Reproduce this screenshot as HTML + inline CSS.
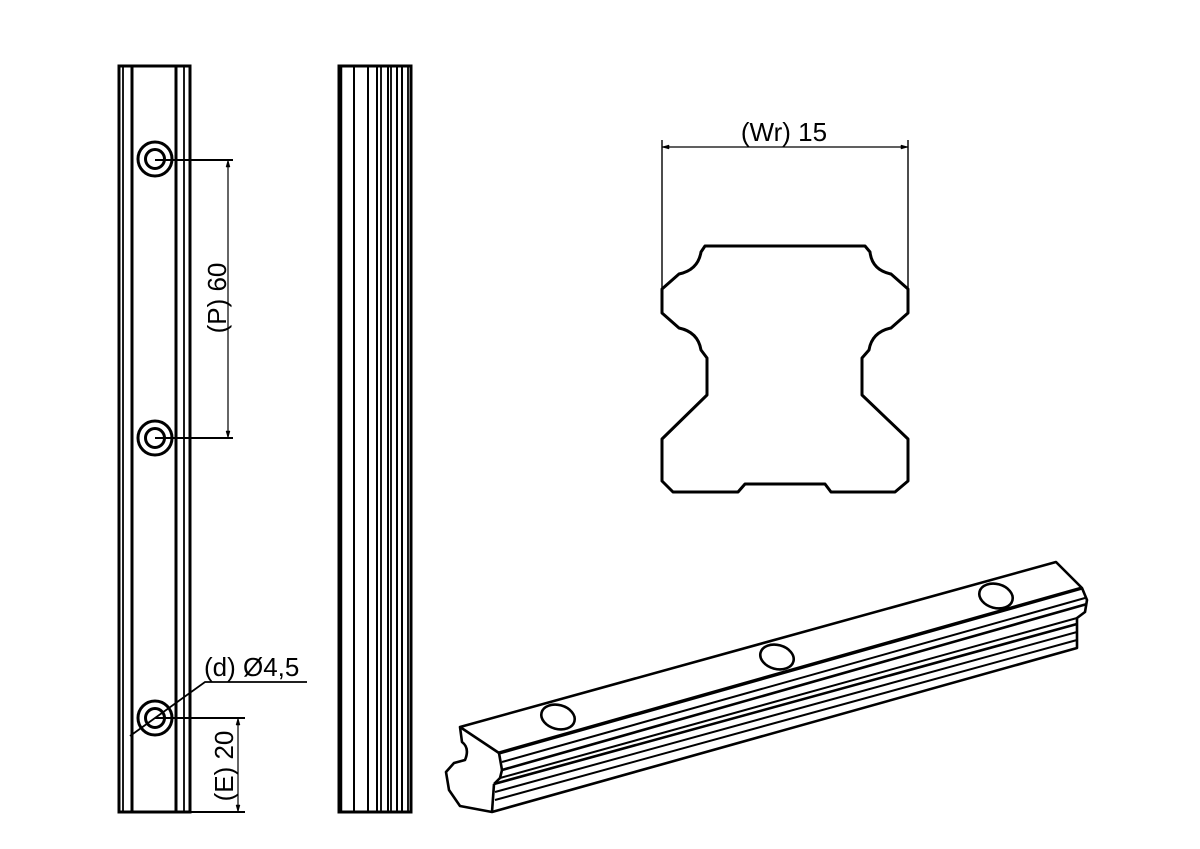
<!DOCTYPE html>
<html><head><meta charset="utf-8"><style>
html,body{margin:0;padding:0;background:#fff;}
svg{display:block;}
text{font-family:"Liberation Sans",Arial,sans-serif;fill:#000;}
</style></head><body>
<svg width="1200" height="849" viewBox="0 0 1200 849" xmlns="http://www.w3.org/2000/svg">
<g stroke="#000" fill="none">
<rect x="119" y="66" width="71" height="746" stroke-width="3"/>
<line x1="123" y1="66" x2="123" y2="812" stroke-width="1.8"/>
<line x1="132" y1="66" x2="132" y2="812" stroke-width="3"/>
<line x1="176" y1="66" x2="176" y2="812" stroke-width="3"/>
<line x1="184" y1="66" x2="184" y2="812" stroke-width="1.8"/>
<g stroke-width="3" fill="#fff">
<circle cx="155" cy="159" r="17"/><circle cx="155" cy="159" r="9.5"/>
<circle cx="155" cy="438" r="17"/><circle cx="155" cy="438" r="9.5"/>
<circle cx="155" cy="718" r="17"/><circle cx="155" cy="718" r="9.5"/>
</g>
<line x1="155" y1="160" x2="233" y2="160" stroke-width="2"/>
<line x1="155" y1="438" x2="233" y2="438" stroke-width="2"/>
<line x1="228" y1="160" x2="228" y2="438" stroke-width="1.2"/>
<path d="M228 160 l-2 7 h4z M228 438 l-2 -7 h4z" fill="#000" stroke-width="0.5"/>
<line x1="155" y1="718" x2="245" y2="718" stroke-width="2"/>
<line x1="190" y1="812" x2="245" y2="812" stroke-width="2"/>
<line x1="238" y1="718" x2="238" y2="812" stroke-width="1.2"/>
<path d="M238 718 l-2 7 h4z M238 812 l-2 -7 h4z" fill="#000" stroke-width="0.5"/>
<polyline points="130,736 205,682 307,682" stroke-width="1.8"/>
<rect x="339" y="66" width="72" height="746" stroke-width="3"/>
<line x1="341" y1="66" x2="341" y2="812" stroke-width="2.5"/>
<line x1="354" y1="66" x2="354" y2="812" stroke-width="2"/>
<line x1="368" y1="66" x2="368" y2="812" stroke-width="2"/>
<line x1="377" y1="66" x2="377" y2="812" stroke-width="2"/>
<line x1="381" y1="66" x2="381" y2="812" stroke-width="1.8"/>
<line x1="388" y1="66" x2="388" y2="812" stroke-width="2"/>
<line x1="391" y1="66" x2="391" y2="812" stroke-width="1.8"/>
<line x1="397" y1="66" x2="397" y2="812" stroke-width="2"/>
<line x1="402" y1="66" x2="402" y2="812" stroke-width="2"/>
<line x1="408" y1="66" x2="408" y2="812" stroke-width="1.8"/>
<line x1="662" y1="140" x2="662" y2="289" stroke-width="1.4"/>
<line x1="908" y1="140" x2="908" y2="289" stroke-width="1.4"/>
<line x1="662" y1="147" x2="908" y2="147" stroke-width="1.2"/>
<path d="M662 147 l7 -2 v4z M908 147 l-7 -2 v4z" fill="#000" stroke-width="0.5"/>
<path stroke-width="3" stroke-linejoin="round" d="M705 246 L865 246 L870 252 Q872 270 891 274 L908 289 L908 313 L891 328 Q872 332 869 350 L862 358 L862 395 L908 439 L908 481 L895 492 L831 492 L825 484 L745 484 L738 492 L673 492 L662 481 L662 439 L707 395 L707 358 L701 350 Q698 332 679 328 L662 313 L662 289 L679 274 Q698 270 701 252 Z"/>
<g stroke-width="2.6" stroke-linejoin="round">
<path d="M460 727 L1056 562 L1082 588 L1087 600 L1085 612 L1077 618 L1077 648 L492 812 L460 806 L449 790 L446 772 L454 763 L465 760 Q470 748 462 742 Z" fill="#fff"/>
<line x1="460" y1="727" x2="499" y2="753"/>
<line x1="499" y1="753" x2="1082" y2="588" stroke-width="3.5"/>
<line x1="499" y1="753" x2="502" y2="770"/>
<line x1="502" y1="762" x2="1085" y2="598" stroke-width="2"/>
<line x1="502" y1="770" x2="1087" y2="604"/>
<line x1="502" y1="770" x2="500" y2="778"/>
<line x1="500" y1="778" x2="1077" y2="618" stroke-width="2"/>
<line x1="500" y1="778" x2="494" y2="784"/>
<line x1="494" y1="784" x2="1077" y2="624"/>
<line x1="494" y1="784" x2="492" y2="812"/>
<line x1="495" y1="792" x2="1077" y2="632" stroke-width="2"/>
<line x1="495" y1="800" x2="1077" y2="640" stroke-width="2"/>
</g>
<g stroke-width="2.6" fill="#fff">
<ellipse cx="558" cy="717" rx="17" ry="12" transform="rotate(15 558 717)"/>
<ellipse cx="777" cy="657" rx="17" ry="12" transform="rotate(15 777 657)"/>
<ellipse cx="996" cy="596" rx="17" ry="12" transform="rotate(15 996 596)"/>
</g>
</g>
<text x="0" y="0" font-size="26" text-anchor="middle" transform="translate(226 298) rotate(-90)">(P) 60</text>
<text x="0" y="0" font-size="26" text-anchor="middle" transform="translate(233 766) rotate(-90)">(E) 20</text>
<text x="204" y="676" font-size="26">(d) Ø4,5</text>
<text x="784" y="141" font-size="26" text-anchor="middle">(Wr) 15</text>
</svg>
</body></html>
